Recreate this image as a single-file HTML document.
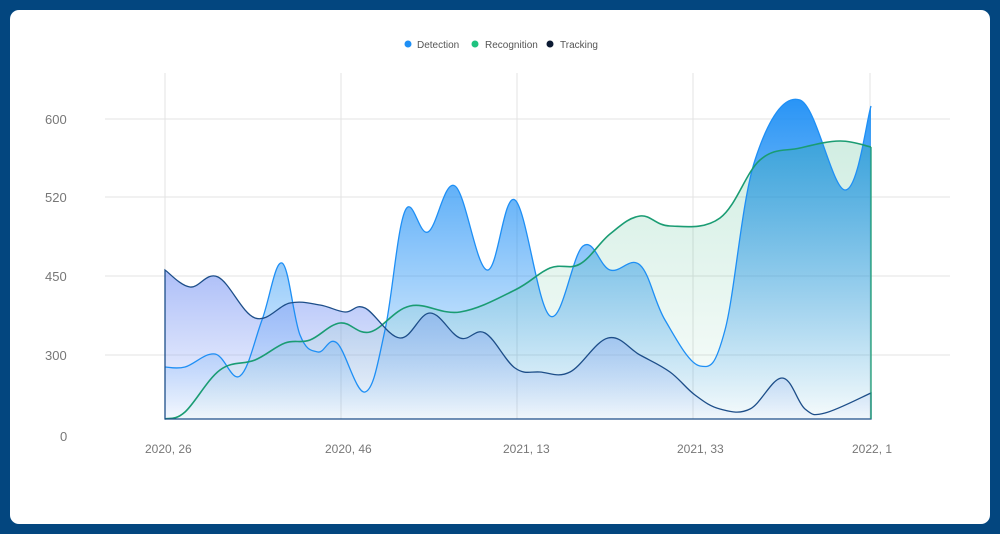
<!DOCTYPE html>
<html><head><meta charset="utf-8"><style>
html,body{margin:0;padding:0;width:1000px;height:534px;overflow:hidden;background:#03467f;}
#p{position:absolute;left:10px;top:10px;width:980px;height:514px;background:#fff;border-radius:9px;}
svg{position:absolute;left:0;top:0;}
text{font-family:"Liberation Sans",sans-serif;}
</style></head><body>
<div id="p"></div>
<svg width="1000" height="534" id="s">
<defs>
<linearGradient id="gd" x1="0" y1="100" x2="0" y2="419" gradientUnits="userSpaceOnUse"><stop offset="0" stop-color="#1e8ff5" stop-opacity="0.95"/><stop offset="1" stop-color="#1e8ff5" stop-opacity="0.02"/></linearGradient>
<linearGradient id="gt" x1="0" y1="270" x2="0" y2="419" gradientUnits="userSpaceOnUse"><stop offset="0" stop-color="#8aa3f5" stop-opacity="0.7"/><stop offset="1" stop-color="#8aa3f5" stop-opacity="0.05"/></linearGradient>
<linearGradient id="gr" x1="0" y1="140" x2="0" y2="419" gradientUnits="userSpaceOnUse"><stop offset="0" stop-color="#1aa86f" stop-opacity="0.2"/><stop offset="1" stop-color="#1aa86f" stop-opacity="0.02"/></linearGradient>
</defs>
<g stroke="#e3e3e3" stroke-width="1">
<line x1="105" y1="119" x2="950" y2="119"/><line x1="105" y1="197" x2="950" y2="197"/>
<line x1="105" y1="276" x2="950" y2="276"/><line x1="105" y1="355" x2="950" y2="355"/>
<line x1="165" y1="73" x2="165" y2="419"/><line x1="341" y1="73" x2="341" y2="419"/>
<line x1="517" y1="73" x2="517" y2="419"/><line x1="693" y1="73" x2="693" y2="419"/>
<line x1="870" y1="73" x2="870" y2="419"/>
</g>
<g font-size="13" fill="#777">
<text x="45" y="124">600</text><text x="45" y="202">520</text><text x="45" y="281">450</text><text x="45" y="360">300</text><text x="60" y="441">0</text>
<text x="145" y="453" font-size="12">2020, 26</text><text x="325" y="453" font-size="12">2020, 46</text>
<text x="503" y="453" font-size="12">2021, 13</text><text x="677" y="453" font-size="12">2021, 33</text>
<text x="852" y="453" font-size="12">2022, 1</text>
</g>
<g font-size="10" fill="#555">
<circle cx="408" cy="44" r="3.5" fill="#1e8ff5"/><text x="417" y="48">Detection</text>
<circle cx="475" cy="44" r="3.5" fill="#1fc27f"/><text x="485" y="48">Recognition</text>
<circle cx="550" cy="44" r="3.5" fill="#0c1a33"/><text x="560" y="48">Tracking</text>
</g>
<g id="series"></g>
</svg>
<script>
var B=419;
var det=[[165,367],[185,367],[215,354],[240,376],[262,320],[282,263],[300,335],[318,352],[337,343],[365,392],[385,330],[405,211],[428,232],[455,186],[487,270],[515,200],[550,316],[583,246],[610,270],[640,265],[665,320],[700,366],[725,330],[755,160],[800,100],[845,190],[871,106]];
var rec=[[165,419],[185,412],[220,370],[255,360],[285,343],[310,340],[340,323],[370,332],[410,306],[460,312],[515,290],[550,268],[580,264],[610,234],[640,216],[670,226],[720,218],[760,160],[800,148],[840,141],[871,147]];
var trk=[[165,270],[190,287],[218,277],[255,318],[290,303],[320,305],[345,312],[365,308],[400,338],[430,313],[460,338],[485,333],[515,368],[540,372],[570,372],[608,338],[640,355],[670,372],[695,395],[720,409],[750,409],[782,378],[805,409],[825,413],[871,393]];
function path(p){var d="M"+p[0][0]+","+p[0][1];for(var i=0;i<p.length-1;i++){var a=p[i-1]||p[i],b=p[i],c=p[i+1],e=p[i+2]||c;var t=0.18;
d+=" C"+(b[0]+(c[0]-a[0])*t)+","+(b[1]+(c[1]-a[1])*t)+" "+(c[0]-(e[0]-b[0])*t)+","+(c[1]-(e[1]-b[1])*t)+" "+c[0]+","+c[1];}return d;}
function area(p){return path(p)+" L"+p[p.length-1][0]+","+B+" L"+p[0][0]+","+B+" Z";}
var g=document.getElementById("series"),ns="http://www.w3.org/2000/svg";
function add(d,f,s,w){var e=document.createElementNS(ns,"path");e.setAttribute("d",d);e.setAttribute("fill",f);e.setAttribute("stroke",s);e.setAttribute("stroke-width",w);g.appendChild(e);}
add(area(det),"url(#gd)","none",0);
add(area(trk),"url(#gt)","none",0);
add(area(rec),"url(#gr)","none",0);
add(path(det),"none","#1e8ff5",1.3);
add(path(rec),"none","#1a9c73",1.6);
add(path(trk)+" L871,"+B+" L165,"+B+" Z","none","#1d4e89",1.3);
add("M871,147 L871,419","none","#1a9c73",1.3);
</script>
</body></html>
